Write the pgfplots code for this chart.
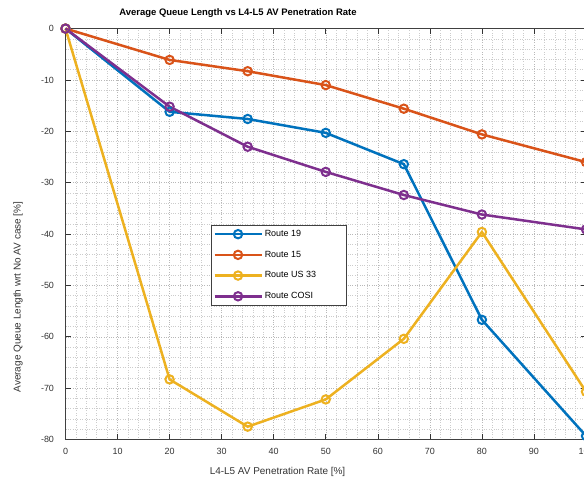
\documentclass[border=0pt]{standalone}
\usepackage{fontspec}
\setmainfont{Liberation Sans}
\usepackage{pgfplots}
\pgfplotsset{compat=1.18}
\definecolor{c1}{rgb}{0,0.447,0.741}
\definecolor{c2}{rgb}{0.85,0.325,0.098}
\definecolor{c3}{rgb}{0.929,0.694,0.125}
\definecolor{c4}{rgb}{0.494,0.184,0.556}
\begin{document}
\begin{tikzpicture}[x=1bp,y=1bp]
\begin{axis}[
  at={(0,0)}, anchor=south west,
  scale only axis, width=520.5bp, height=410.9bp,
  xmin=0, xmax=100, ymin=-80, ymax=0,
  xtick={0,10,...,100}, ytick={-80,-70,...,0},
  minor x tick num=4, minor y tick num=4,
  grid=both,
  major grid style={dotted, black!28, line width=0.5bp},
  minor grid style={dotted, black!20, line width=0.5bp},
  tick align=inside, major tick length=5bp, minor tick length=0pt,
  axis line style={black!75, line width=0.9bp},
  tick style={black!80, line width=0.6bp},
  tick label style={font=\fontsize{9}{10}\selectfont, text=black!80},
  /pgf/number format/assume math mode=true,
  xticklabel style={yshift=-5bp},
  yticklabel style={xshift=-8bp},
  clip=false,
  legend style={at={(rel axis cs:0.2795,0.522)}, anchor=north west,
    draw=black!75, line width=0.6bp, fill=white,
    font=\fontsize{9}{10}\selectfont, row sep=9bp,
    inner xsep=2bp, inner ysep=3bp},
  legend cell align=left,
  legend image code/.code={\draw[mark repeat=2,mark phase=2] plot coordinates {(0bp,0bp) (23.5bp,0bp) (47bp,0bp)};},
  every axis plot/.append style={line width=2.5bp, mark=o, mark size=4.2bp, mark options={solid, line width=2bp}},
]
\addplot[c1] coordinates {(0,0)(20,-16.2)(35,-17.6)(50,-20.3)(65,-26.4)(80,-56.7)(100,-79.3)};
\addlegendentry{\makebox[78bp][l]{Route 19}}
\addplot[c2] coordinates {(0,0)(20,-6.1)(35,-8.3)(50,-11.0)(65,-15.6)(80,-20.6)(100,-26.0)};
\addlegendentry{\makebox[78bp][l]{Route 15}}
\addplot[c3] coordinates {(0,0)(20,-68.3)(35,-77.5)(50,-72.2)(65,-60.4)(80,-39.6)(100,-70.7)};
\addlegendentry{\makebox[78bp][l]{Route US 33}}
\addplot[c4] coordinates {(0,0)(20,-15.2)(35,-23.0)(50,-27.9)(65,-32.4)(80,-36.2)(100,-39.1)};
\addlegendentry{\makebox[78bp][l]{Route COSI}}
\end{axis}
\node[font=\bfseries\fontsize{9.5}{11}\selectfont] at (172.5,426) {Average Queue Length vs L4-L5 AV Penetration Rate};
\node[font=\fontsize{10}{12}\selectfont, text=black!80] at (212,-32) {L4-L5 AV Penetration Rate [\%]};
\node[font=\fontsize{10}{12}\selectfont, text=black!80, rotate=90] at (-47.5,142.5) {Average Queue Length wrt No AV case [\%]};
\pgfresetboundingbox
\useasboundingbox (-65.5,-42.5) rectangle (518.5,439.5);
\end{tikzpicture}
\end{document}
